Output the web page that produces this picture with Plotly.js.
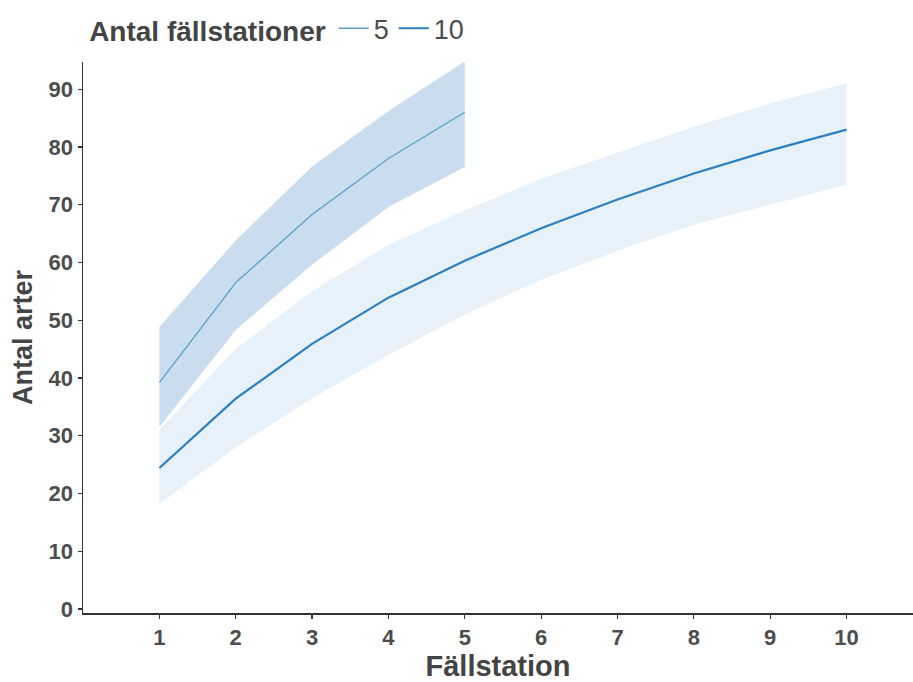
<!DOCTYPE html>
<html>
<head>
<meta charset="utf-8">
<script src="https://cdn.plot.ly/plotly-3.0.1.min.js"></script>
<style>html,body{margin:0;padding:0;background:#fff;}#chart{width:913px;height:682px;}</style>
</head>
<body>
<div id="chart"></div>
<script>
// Data
const stations5 = [1, 2, 3, 4, 5];
const mean5 = [39.2, 56.5, 68.3, 78.0, 86.0];
const lower5 = [31.5, 48.3, 59.6, 69.6, 76.5];
const upper5 = [48.8, 63.8, 76.6, 86.2, 94.8];

const stations10 = [1, 2, 3, 4, 5, 6, 7, 8, 9, 10];
const mean10 = [24.4, 36.4, 45.9, 53.9, 60.3, 65.9, 70.9, 75.4, 79.4, 83.0];
const lower10 = [18.2, 28.0, 36.5, 44.0, 51.0, 57.0, 62.0, 66.5, 70.0, 73.5];
const upper10 = [31.0, 45.0, 55.0, 63.0, 69.0, 74.5, 79.0, 83.5, 87.5, 91.0];

const xTicks = [1, 2, 3, 4, 5, 6, 7, 8, 9, 10];
const yTicks = [0, 10, 20, 30, 40, 50, 60, 70, 80, 90];

const band10Color = 'rgba(230,241,250,1)';
const band5Color = 'rgba(188,213,234,0.8)';
const line5Color = '#5a9fc6';
const line10Color = '#2c7fc0';

const traces = [
  {x: stations10, y: lower10, type: 'scatter', mode: 'lines', line: {width: 0}, showlegend: false, hoverinfo: 'skip'},
  {x: stations10, y: upper10, type: 'scatter', mode: 'lines', line: {width: 0}, fill: 'tonexty', fillcolor: band10Color, showlegend: false, hoverinfo: 'skip'},
  {x: stations5, y: lower5, type: 'scatter', mode: 'lines', line: {width: 0}, showlegend: false, hoverinfo: 'skip'},
  {x: stations5, y: upper5, type: 'scatter', mode: 'lines', line: {width: 0}, fill: 'tonexty', fillcolor: band5Color, showlegend: false, hoverinfo: 'skip'},
  {x: stations5, y: mean5, type: 'scatter', mode: 'lines', name: '5', line: {color: line5Color, width: 1.3}},
  {x: stations10, y: mean10, type: 'scatter', mode: 'lines', name: '10', line: {color: line10Color, width: 2.2}}
];

const layout = {
  width: 913, height: 682,
  paper_bgcolor: '#fff', plot_bgcolor: '#fff',
  margin: {l: 83, r: 0, t: 62, b: 69},
  font: {family: 'Liberation Sans, Arial, sans-serif', color: '#4d4d4d'},
  showlegend: true,
  legend: {
    orientation: 'h', x: 0.005, xanchor: 'left', y: 1.016, yanchor: 'bottom',
    title: {text: '<b>Antal fällstationer</b>', side: 'left', font: {size: 28, color: '#444'}},
    font: {size: 27, color: '#4d4d4d'},
    itemwidth: 30, traceorder: 'normal'
  },
  xaxis: {
    range: [0, 10.87], tickvals: xTicks, ticktext: xTicks.map(String),
    showgrid: false, zeroline: false, showline: true, linecolor: '#333', linewidth: 1.5,
    ticks: 'outside', ticklen: 4, tickcolor: '#333', tickwidth: 1.2,
    tickfont: {size: 22, color: '#4d4d4d', family: 'Liberation Sans, Arial, sans-serif', weight: 'bold'},
    title: {text: '<b>Fällstation</b>', font: {size: 29, color: '#444'}, standoff: 8}
  },
  yaxis: {
    range: [-0.7, 94.7], tickvals: yTicks, ticktext: yTicks.map(String),
    showgrid: false, zeroline: false, showline: true, linecolor: '#333', linewidth: 1.5,
    ticks: 'outside', ticklen: 4, tickcolor: '#333', tickwidth: 1.2,
    tickfont: {size: 22, color: '#4d4d4d', family: 'Liberation Sans, Arial, sans-serif', weight: 'bold'},
    title: {text: '<b>Antal arter</b>', font: {size: 27, color: '#444'}, standoff: 8}
  }
};

Plotly.newPlot('chart', traces, layout, {displayModeBar: false, staticPlot: true});
</script>
</body>
</html>
